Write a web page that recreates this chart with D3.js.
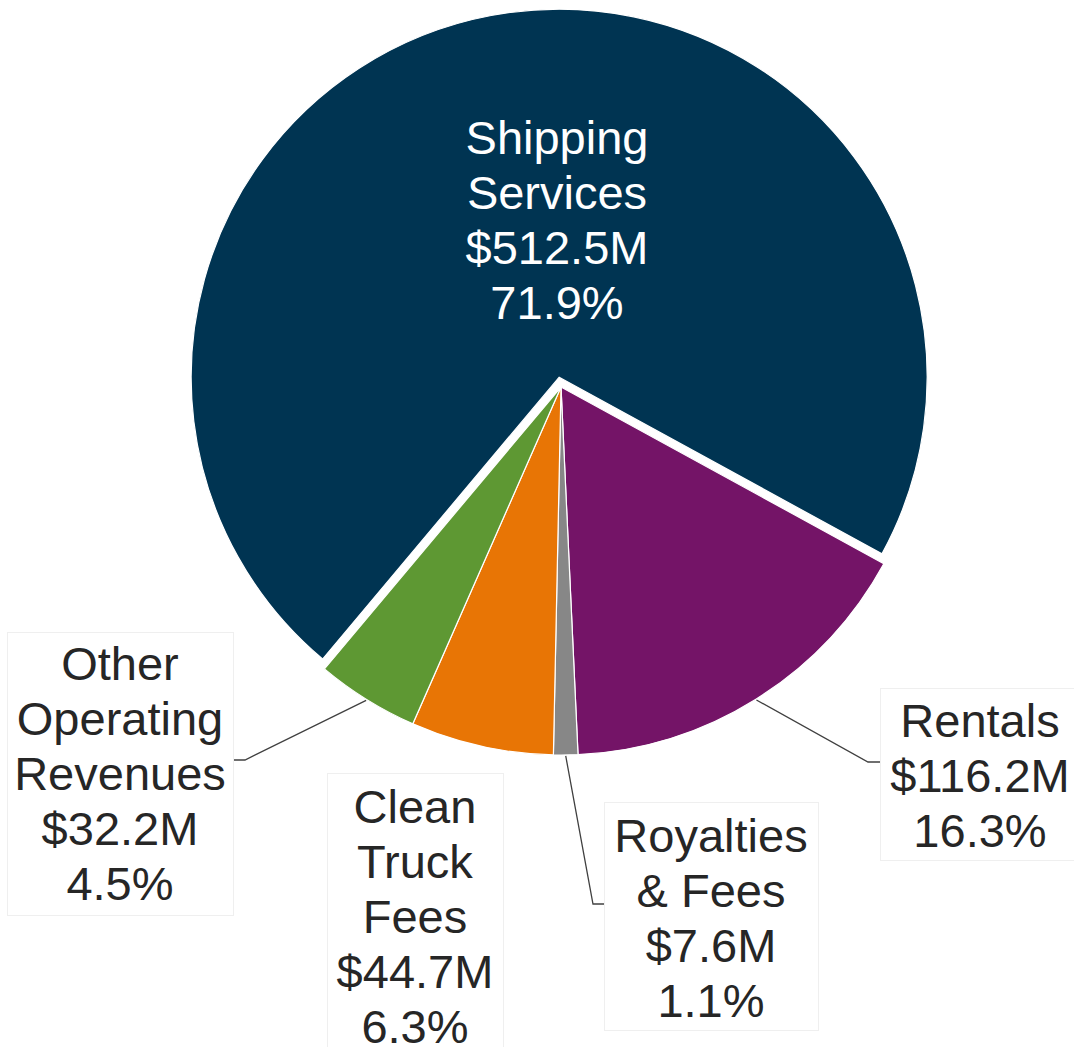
<!DOCTYPE html>
<html>
<head>
<meta charset="utf-8">
<script src="https://cdn.jsdelivr.net/npm/d3@7"></script>
<style>
  body { margin: 0; background: #fff; }
  svg { display: block; }
  text { font-family: "Liberation Sans", Arial, sans-serif; }
</style>
</head>
<body>
<div id="chart"></div>
<script>
// data
var categories = ['Shipping Services', 'Rentals', 'Royalties & Fees', 'Clean Truck Fees', 'Other Operating Revenues'];
var labelLines = [
    ['Shipping', 'Services'],
    ['Rentals'],
    ['Royalties', '& Fees'],
    ['Clean', 'Truck', 'Fees'],
    ['Other', 'Operating', 'Revenues']
];
var amounts = [512.5, 116.2, 7.6, 44.7, 32.2];
var amountLabels = ['$512.5M', '$116.2M', '$7.6M', '$44.7M', '$32.2M'];
var pctLabels = ['71.9%', '16.3%', '1.1%', '6.3%', '4.5%'];
var colors = ['#003452', '#741467', '#878787', '#e87505', '#5e9833'];

var width = 1074,
    height = 1047,
    cx = 561,
    cy = 387,
    radius = 368,
    explode = 10,
    fontSize = 47,
    lineH = 55;

// label layout: box, text centre, first baseline, leader elbow
var layout = [
    { inside: true, x: 557, y: 154 },
    { box: [880, 688, 200, 172], x: 980, y: 737, elbow: [868, 762], end: [880, 762] },
    { box: [604, 802, 214, 228], x: 711, y: 852, elbow: [593, 904], end: [604, 904] },
    { box: [327, 773, 176, 290], x: 415, y: 823 },
    { box: [7, 632, 226, 283], x: 120, y: 680, elbow: [245, 760], end: [233, 760] }
];

var svg = d3.select('#chart')
    .append('svg')
    .attr('width', width)
    .attr('height', height);

var start = -140 * Math.PI / 180;
var pie = d3.pie()
    .sort(null)
    .startAngle(start)
    .endAngle(start + 2 * Math.PI)
    .value(function (d) { return d; });

var arcs = pie(amounts);
var arc = d3.arc().innerRadius(0).outerRadius(radius);

var g = svg.append('g').attr('transform', 'translate(' + cx + ',' + cy + ')');

g.selectAll('path')
    .data(arcs)
    .enter()
    .append('path')
    .attr('d', arc)
    .attr('fill', function (d, i) { return colors[i]; })
    .attr('stroke', '#fff')
    .attr('stroke-width', 1.2)
    .attr('transform', function (d, i) {
        if (i !== 0) return null;
        var a = (d.startAngle + d.endAngle) / 2;
        return 'translate(' + (Math.sin(a) * explode) + ',' + (-Math.cos(a) * explode) + ')';
    });

// leader lines
arcs.forEach(function (d, i) {
    var L = layout[i];
    if (!L.elbow) return;
    var a = (d.startAngle + d.endAngle) / 2;
    var p0 = [cx + Math.sin(a) * (radius + 1), cy - Math.cos(a) * (radius + 1)];
    svg.append('polyline')
        .attr('points', [p0, L.elbow, L.end].map(function (p) { return p.join(','); }).join(' '))
        .attr('fill', 'none')
        .attr('stroke', '#404040')
        .attr('stroke-width', 1.3);
});

// labels
layout.forEach(function (L, i) {
    if (L.box) {
        svg.append('rect')
            .attr('x', L.box[0] + 0.5)
            .attr('y', L.box[1] + 0.5)
            .attr('width', L.box[2])
            .attr('height', L.box[3])
            .attr('fill', '#fff')
            .attr('stroke', '#efefef')
            .attr('stroke-width', 1);
    }
    var lines = labelLines[i].concat([amountLabels[i], pctLabels[i]]);
    var t = svg.append('text')
        .attr('text-anchor', 'middle')
        .attr('font-size', fontSize)
        .attr('fill', L.inside ? '#ffffff' : '#262626');
    lines.forEach(function (s, j) {
        t.append('tspan')
            .attr('x', L.x)
            .attr('y', L.y + j * lineH)
            .text(s);
    });
});
</script>
</body>
</html>
